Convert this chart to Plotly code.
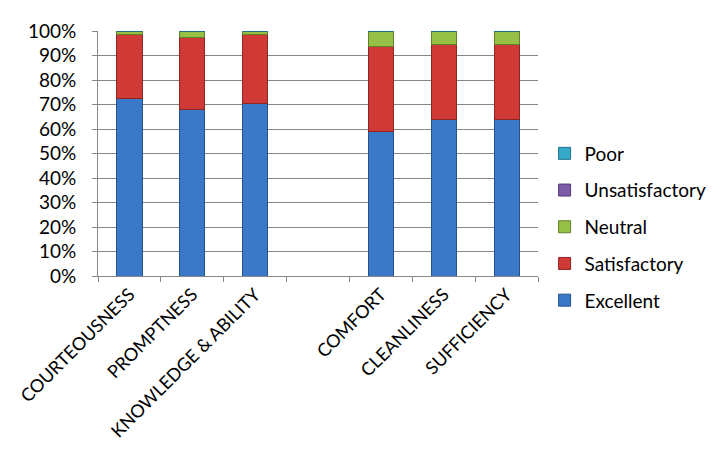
import plotly.graph_objects as go

categories = ["COURTEOUSNESS", "PROMPTNESS", "KNOWLEDGE & ABILITY", " ",
              "COMFORT", "CLEANLINESS", "SUFFICIENCY"]
excellent = [72.5, 68.0, 70.5, None, 59.0, 64.0, 64.0]
satisfactory = [26.0, 29.5, 28.0, None, 34.5, 30.5, 30.5]
neutral = [1.5, 2.5, 1.5, None, 6.5, 5.5, 5.5]
unsatisfactory = [0, 0, 0, None, 0, 0, 0]
poor = [0, 0, 0, None, 0, 0, 0]

series = [
    ("Excellent", excellent, "#3b78c8", "#24528f"),
    ("Satisfactory", satisfactory, "#d03a36", "#8f2523"),
    ("Neutral", neutral, "#96bf45", "#62802a"),
    ("Unsatisfactory", unsatisfactory, "#7e5ba8", "#55397a"),
    ("Poor", poor, "#36a9c8", "#1f7189"),
]

fig = go.Figure()
for i, (name, vals, col, edge) in enumerate(series):
    fig.add_trace(go.Bar(
        x=categories, y=vals, name=name, legendgroup=name,
        legendrank=len(series) - i,
        marker=dict(color=col, line=dict(color=edge, width=1)),
        width=0.4,
    ))

fig.update_layout(
    barmode="stack",
    width=724, height=453,
    margin=dict(l=90, r=194, t=23, b=185),
    plot_bgcolor="white", paper_bgcolor="white",
    font=dict(family="Lato", size=18, color="black"),
    showlegend=True,
    legend=dict(traceorder="grouped", tracegroupgap=9,
                x=1.015, xanchor="left", y=0.2, yanchor="middle",
                font=dict(size=19), itemwidth=30),
)
fig.update_yaxes(range=[0, 100], dtick=10, ticksuffix="%",
                 tickfont=dict(size=19),
                 showgrid=True, gridcolor="#868686", gridwidth=1,
                 showline=True, linecolor="#868686",
                 ticks="outside", ticklen=5, tickcolor="#868686",
                 ticklabelstandoff=12, zeroline=False, automargin=False)
fig.update_xaxes(tickangle=-45, tickson="boundaries",
                 ticks="outside", ticklen=5, tickcolor="#868686",
                 showline=True, linecolor="#868686", showgrid=False,
                 automargin=False)

fig.write_html("out.html")
